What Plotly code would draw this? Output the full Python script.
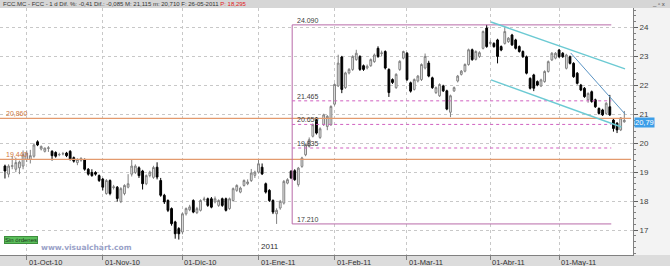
import pandas as pd
import plotly.graph_objects as go

# ---------------- data ----------------
holidays = ["2010-12-24", "2010-12-31", "2011-04-22", "2011-04-25"]
dates = [d for d in pd.bdate_range("2010-09-23", "2011-05-26")
         if d.strftime("%Y-%m-%d") not in holidays]

opens = [19.21, 18.93, 19.20, 19.10, 19.15, 19.21, 19.44, 19.44, 19.55, 20.05,
         19.80, 19.72, 19.82, 19.72, 19.68, 19.60, 19.63, 19.66, 19.72, 19.50,
         19.33, 19.41, 19.44, 19.10, 18.99, 18.99, 18.88, 18.76, 18.26, 18.71,
         18.47, 18.48, 17.98, 18.26, 18.48, 18.93, 18.99, 19.15, 19.04, 18.60,
         18.88, 18.82,
         19.17, 18.71, 18.20, 18.02, 17.74, 17.28, 17.05, 16.93, 17.56, 17.70,
         18.02, 17.60, 17.68, 18.05, 18.08, 18.08, 17.97, 17.85, 18.08, 18.08,
         17.74, 18.02, 18.37, 18.31, 18.54, 18.60, 18.71, 18.89,
         19.00, 19.17, 18.60, 18.37, 18.02, 17.56, 17.76, 17.93, 18.62, 19.03,
         19.05, 18.57, 19.20, 19.60, 19.89, 20.24, 20.81, 20.20, 20.64, 20.58,
         20.64,
         21.35, 21.98, 22.98, 21.92, 22.43, 22.55, 22.89, 23.00, 22.68, 22.60,
         22.68, 22.82, 23.28, 23.10, 23.17, 22.55, 22.20, 21.92, 22.55, 22.94,
         23.11, 22.09, 21.86, 22.15, 22.20, 22.60, 22.77, 22.26, 21.75, 21.64,
         21.98, 21.81, 21.07, 21.81, 22.15, 22.38, 22.49, 22.72, 23.23, 22.90,
         23.00, 23.28, 23.98, 23.45, 23.45, 23.57, 23.34, 23.45, 23.51, 23.74,
         23.57, 23.34, 23.17, 22.99, 22.24, 22.36, 22.13, 21.98, 22.13, 22.48,
         22.88, 22.94, 23.22, 23.11, 22.59, 22.99, 22.76, 22.42, 22.01, 21.90,
         21.50, 21.78, 21.50, 21.20, 21.15, 21.03, 21.26, 20.80, 20.69, 20.46,
         20.74]
highs = [19.26, 19.27, 19.55, 19.50, 19.40, 19.75, 19.75, 19.77, 20.00, 20.10,
         19.92, 19.85, 19.90, 19.76, 19.72, 19.67, 19.70, 19.70, 19.76, 19.54,
         19.48, 19.52, 19.47, 19.14, 19.10, 19.03, 18.92, 18.80, 18.76, 18.75,
         18.56, 18.52, 18.48, 18.58, 18.93, 19.44, 19.27, 19.20, 19.08, 18.92,
         19.05, 19.22,
         19.34, 18.80, 18.25, 18.06, 17.78, 17.32, 17.10, 17.60, 17.78, 17.87,
         18.06, 17.80, 18.06, 18.15, 18.12, 18.14, 18.16, 18.06, 18.12, 18.12,
         18.12, 18.47, 18.58, 18.50, 18.75, 18.75, 19.11, 19.05,
         19.42, 19.30, 18.64, 18.41, 18.06, 17.75, 18.04, 18.73, 18.79, 19.07,
         19.10, 19.18, 19.53, 19.99, 20.20, 20.68, 20.90, 20.55, 21.02, 20.97,
         21.31,
         22.07, 23.06, 23.02, 22.47, 22.60, 23.04, 23.23, 23.04, 22.72, 22.72,
         22.93, 23.10, 23.35, 23.20, 23.21, 22.59, 22.24, 22.42, 22.87, 23.20,
         23.15, 22.13, 22.24, 22.36, 22.76, 23.10, 22.85, 22.30, 21.96, 22.07,
         22.02, 21.85, 21.68, 21.96, 22.36, 22.53, 22.76, 23.27, 23.27, 23.21,
         23.18, 23.90, 24.09, 23.55, 23.49, 23.61, 23.38, 24.00, 23.67, 23.78,
         23.61, 23.38, 23.21, 23.03, 22.28, 22.40, 22.17, 22.23, 22.52, 22.86,
         23.15, 23.15, 23.26, 23.15, 23.09, 23.03, 22.80, 22.46, 22.05, 21.94,
         21.76, 21.82, 21.54, 21.24, 21.19, 21.42, 21.67, 20.84, 20.73, 20.90,
         21.115]
lows = [18.78, 18.82, 19.10, 19.00, 18.93, 19.10, 19.35, 19.30, 19.50, 19.90,
        19.75, 19.68, 19.70, 19.40, 19.50, 19.55, 19.58, 19.52, 19.40, 19.33,
        19.24, 19.36, 19.05, 18.88, 18.84, 18.88, 18.66, 18.37, 18.22, 18.20,
        18.40, 17.98, 17.93, 18.20, 18.44, 18.85, 18.94, 18.80, 18.40, 18.55,
        18.82, 18.77,
        18.75, 18.15, 17.90, 17.62, 17.15, 16.70, 16.67, 16.85, 17.50, 17.65,
        17.58, 17.55, 17.64, 18.00, 17.80, 17.75, 17.92, 17.80, 17.80, 17.64,
        17.70, 17.98, 18.32, 18.27, 18.50, 18.55, 18.66, 18.80,
        18.95, 18.90, 18.26, 17.97, 17.55, 17.21, 17.70, 17.88, 18.58, 18.76,
        18.70, 18.50, 19.15, 19.55, 19.85, 20.20, 20.30, 20.15, 20.60, 20.45,
        20.60,
        21.30, 21.94, 21.73, 21.88, 22.38, 22.50, 22.85, 22.50, 22.50, 22.55,
        22.64, 22.78, 22.95, 23.00, 22.55, 21.60, 22.05, 21.88, 22.50, 22.90,
        22.15, 21.75, 21.82, 22.10, 22.15, 22.55, 22.28, 21.88, 21.70, 21.60,
        21.77, 21.14, 20.90, 21.77, 22.10, 22.34, 22.45, 22.68, 22.85, 22.86,
        22.95, 23.24, 23.30, 23.40, 23.30, 22.76, 23.18, 23.41, 23.47, 23.36,
        23.24, 23.13, 22.95, 22.38, 21.86, 21.80, 21.97, 21.94, 22.09, 22.44,
        22.84, 22.90, 22.95, 22.95, 22.55, 22.72, 22.26, 22.03, 21.80, 21.57,
        21.40, 21.40, 21.22, 20.99, 20.94, 20.99, 20.94, 20.40, 20.35, 20.42,
        20.71]
closes = [19.04, 19.21, 19.22, 19.33, 19.35, 19.60, 19.66, 19.57, 19.94, 19.94,
          19.89, 19.83, 19.84, 19.57, 19.55, 19.61, 19.64, 19.57, 19.44, 19.38,
          19.44, 19.47, 19.10, 18.93, 18.88, 18.93, 18.71, 18.48, 18.71, 18.26,
          18.49, 18.09, 18.43, 18.54, 18.60, 19.21, 19.21, 18.88, 18.60, 18.88,
          19.00, 19.16,
          18.83, 18.20, 17.97, 17.68, 17.22, 16.87, 16.87, 17.56, 17.74, 17.80,
          17.62, 17.74, 18.02, 18.07, 17.85, 17.79, 18.08, 18.02, 17.85, 17.68,
          18.08, 18.43, 18.54, 18.45, 18.71, 18.66, 18.97, 19.00,
          19.29, 18.94, 18.31, 18.02, 17.62, 17.68, 17.99, 18.68, 18.74, 18.80,
          18.74, 19.14, 19.49, 19.95, 20.12, 20.64, 20.35, 20.50, 20.98, 20.93,
          21.27,
          22.03, 22.77, 21.86, 22.43, 22.55, 23.00, 23.11, 22.55, 22.55, 22.66,
          22.89, 23.05, 23.00, 23.12, 22.60, 21.75, 22.10, 22.38, 22.83, 23.17,
          22.20, 21.80, 22.20, 22.32, 22.72, 23.00, 22.32, 21.92, 21.92, 22.03,
          21.81, 21.18, 21.64, 21.92, 22.32, 22.49, 22.72, 23.23, 22.89, 23.17,
          23.13, 23.86, 23.34, 23.48, 23.34, 23.00, 23.22, 23.86, 23.63, 23.40,
          23.28, 23.17, 22.99, 22.42, 21.90, 21.90, 22.01, 22.19, 22.48, 22.82,
          23.11, 23.11, 22.99, 22.99, 23.05, 22.76, 22.30, 22.07, 21.84, 21.61,
          21.72, 21.44, 21.26, 21.03, 20.98, 21.38, 20.98, 20.51, 20.46, 20.875,
          20.79]

month_labels = ["01-Oct-10", "01-Nov-10", "01-Dic-10", "01-Ene-11",
                "01-Feb-11", "01-Mar-11", "01-Abr-11", "01-May-11"]
price_ticks = [17, 18, 19, 20, 21, 22, 23, 24]

support_levels = [20.860, 19.440]
support_labels = ["20,860", "19,440"]

fib_levels = [24.090, 21.465, 20.650, 19.835, 17.210]
fib_labels = ["24.090", "21.465", "20.650", "19.835", "17.210"]
fib_solid = [True, False, False, False, True]
fib_span = ["2011-01-14", "2011-05-20"]

channel_upper = (["2011-04-01", "2011-05-26"], [24.19, 22.57])
channel_lower = (["2011-04-01", "2011-05-25"], [22.19, 20.56])
steep_line = (["2011-05-05", "2011-05-26"], [23.12, 21.01])

last_label = "20,79"
title_text = "FCC.MC - FCC - 1 d Dif. %: -0,41 Dif.: -0,085 M: 21,115 m: 20,710 F: 26-05-2011 "
title_red = "P: 18,295"

# ---------------- helpers ----------------
date_str = [d.strftime("%Y-%m-%d") for d in dates]
idx = list(range(len(dates)))


def pos(ds):
    """position of a date on the trading-day axis"""
    return date_str.index(ds)


month_pos = []
seen = set()
for i, d in enumerate(dates):
    key = (d.year, d.month)
    if key not in seen:
        seen.add(key)
        if i > 0:
            month_pos.append(i)

W, H = 670, 266
ML, MR, MT, MB = 0, 37, 8, 11
PW, PH = W - ML - MR, H - MT - MB
FONT = "Liberation Sans"

fig = go.Figure()
fig.add_trace(go.Candlestick(
    x=idx, open=opens, high=highs, low=lows, close=closes,
    increasing=dict(line=dict(color="#808080", width=1), fillcolor="#f2f2f2"),
    decreasing=dict(line=dict(color="#000000", width=1), fillcolor="#000000"),
    whiskerwidth=0, hoverinfo="skip", showlegend=False,
))

shapes = []
annotations = []

# title bar & bottom strip
shapes.append(dict(type="rect", xref="paper", yref="paper", x0=-0.01, x1=1.1,
                   y0=1, y1=1 + MT / PH, fillcolor="#d6d6d6", line_width=0, layer="below"))
shapes.append(dict(type="rect", xref="paper", yref="paper", x0=-0.01, x1=1.1,
                   y0=-MB / PH - 0.01, y1=0, fillcolor="#dcdcdc", line_width=0, layer="below"))

# support / resistance lines
for lvl, lab in zip(support_levels, support_labels):
    shapes.append(dict(type="line", xref="paper", yref="y", x0=0, x1=0.997,
                       y0=lvl, y1=lvl, line=dict(color="#e39a6e", width=1.2)))
    annotations.append(dict(x=0.006, xref="paper", y=lvl, yref="y", text=lab,
                            showarrow=False, xanchor="left", yanchor="bottom",
                            font=dict(family=FONT, size=7, color="#d0783c"), yshift=-1))

# Fibonacci retracement
fx0, fx1 = pos(fib_span[0]) + 0.3, pos(fib_span[1]) + 0.4
fib_col = "#b86aa8"
shapes.append(dict(type="line", xref="x", yref="y", x0=fx0, x1=fx0,
                   y0=min(fib_levels), y1=max(fib_levels),
                   line=dict(color=fib_col, width=1)))
for lvl, lab, solid in zip(fib_levels, fib_labels, fib_solid):
    line = dict(color=fib_col, width=1) if solid else dict(color="#d060c0", width=1, dash="dot")
    shapes.append(dict(type="line", xref="x", yref="y", x0=fx0, x1=fx1, y0=lvl, y1=lvl, line=line))
    annotations.append(dict(x=fx0, xref="x", y=lvl, yref="y", text=lab,
                            showarrow=False, xanchor="left", yanchor="bottom", xshift=3,
                            yshift=-1, font=dict(family=FONT, size=7, color="#404040")))

# trend lines
for (ds, ps), col, wd in ((channel_upper, "#6ccad3", 1.5), (channel_lower, "#6ccad3", 1.5),
                          (steep_line, "#5a94c4", 1)):
    shapes.append(dict(type="line", xref="x", yref="y", x0=pos(ds[0]) + 0.2, x1=pos(ds[1]) + 0.2,
                       y0=ps[0], y1=ps[1], line=dict(color=col, width=wd)))

# x labels (left aligned at tick)
for p, lab in zip(month_pos, month_labels):
    annotations.append(dict(x=p, xref="x", y=0, yref="paper", text=lab, showarrow=False,
                            xanchor="left", yanchor="top", xshift=0, yshift=-1,
                            font=dict(family=FONT, size=7.5, color="#303030")))
annotations.append(dict(x=month_pos[3], xref="x", y=0, yref="paper", text="2011",
                        showarrow=False, xanchor="left", yanchor="bottom", yshift=2,
                        font=dict(family=FONT, size=8, color="#303030")))

# last price box
annotations.append(dict(x=1, xref="paper", y=closes[-1], yref="y", text=last_label,
                        showarrow=False, xanchor="left", yanchor="middle", xshift=1, yshift=-2,
                        bgcolor="#3c9ee8", borderpad=0,
                        font=dict(family=FONT, size=7.5, color="white")))

# title
annotations.append(dict(x=0, xref="paper", y=1 + MT / PH / 2, yref="paper",
                        text=title_text + f"<span style='color:#e02020'>{title_red}</span>",
                        showarrow=False, xanchor="left", yanchor="middle", xshift=1,
                        font=dict(family=FONT, size=6, color="#333333")))
annotations.append(dict(x=1 + (MR - 3) / PW, xref="paper", y=1 + MT / PH / 2, yref="paper",
                        text="_ ▫ x", showarrow=False, xanchor="right", yanchor="middle",
                        font=dict(family=FONT, size=6, color="#444444")))

# "Sin órdenes" badge and watermark
annotations.append(dict(x=0.006, xref="paper", y=0.045, yref="paper", text="Sin órdenes",
                        showarrow=False, xanchor="left", yanchor="bottom",
                        bgcolor="#5cbf5c", bordercolor="#3d8f3d", borderwidth=1, borderpad=0,
                        font=dict(family=FONT, size=6, color="#1a3a1a")))
annotations.append(dict(x=0.062, xref="paper", y=0.005, yref="paper", text="<b>www.visualchart.com</b>",
                        showarrow=False, xanchor="left", yanchor="bottom",
                        font=dict(family="DejaVu Sans", size=7.5, color="#9aa2c8")))

fig.update_layout(
    width=W, height=H, margin=dict(l=ML, r=MR, t=MT, b=MB),
    paper_bgcolor="#f3f3f3", plot_bgcolor="#ffffff",
    shapes=shapes, annotations=annotations, showlegend=False,
    xaxis=dict(range=[-1.37, 173.4], rangeslider=dict(visible=False),
               tickvals=month_pos, ticktext=month_labels, showticklabels=False,
               ticks="outside", ticklen=4, tickcolor="#808080",
               showgrid=True, gridcolor="#c8c8c8", griddash="dot", gridwidth=1,
               showline=True, linecolor="#808080", zeroline=False, fixedrange=True),
    yaxis=dict(side="right", range=[16.136, 24.674], tickvals=price_ticks,
               ticktext=[str(t) for t in price_ticks],
               ticks="outside", ticklen=4, tickcolor="#606060",
               minor=dict(dtick=0.2, ticks="outside", ticklen=2, tickcolor="#808080", showgrid=False),
               showgrid=True, gridcolor="#c8c8c8", griddash="dot", gridwidth=1,
               showline=True, linecolor="#808080", zeroline=False,
               tickfont=dict(family=FONT, size=8, color="#404040")),
)

fig.write_html("out.html")
